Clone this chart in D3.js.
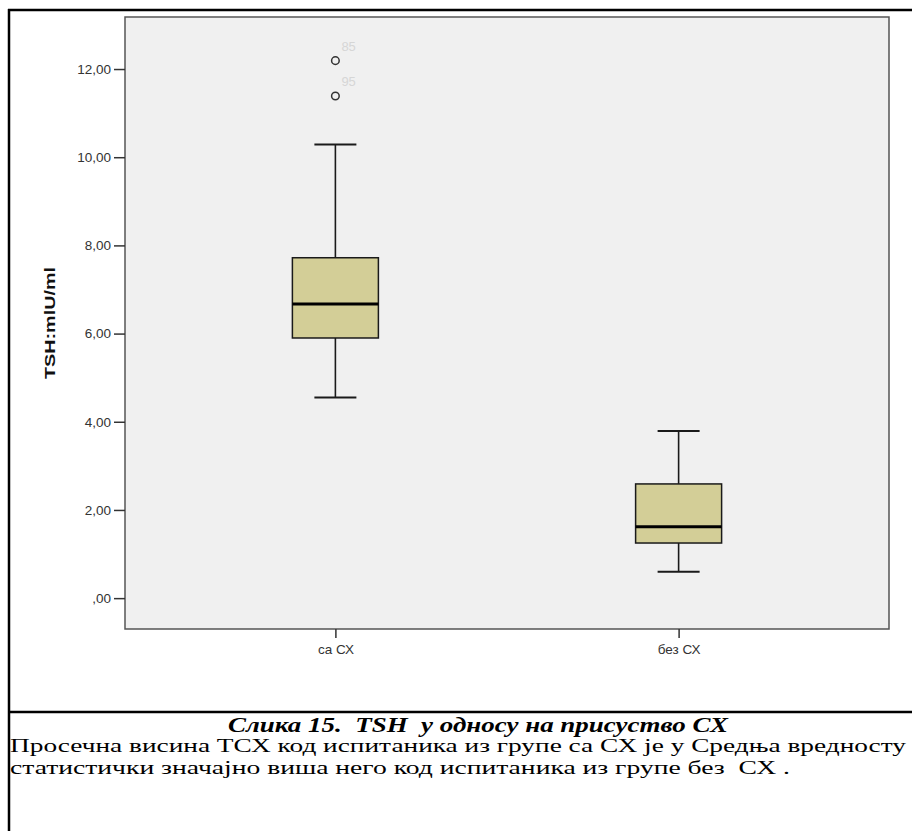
<!DOCTYPE html>
<html>
<head>
<meta charset="utf-8">
<script src="https://cdn.jsdelivr.net/npm/d3@7/dist/d3.min.js"></script>
<style>
  html, body { margin: 0; padding: 0; background: #fff; }
  svg { display: block; }
</style>
</head>
<body>
<script>
// Group labels
const groups = ["са СХ", "без СХ"];
// Five-number summaries per group (TSH, mIU/ml)
const whiskerLow  = [4.55, 0.60];
const q1          = [5.90, 1.25];
const median      = [6.67, 1.62];
const q3          = [7.72, 2.59];
const whiskerHigh = [10.29, 3.79];
// Outlying cases (group index, value, case id)
const outlierGroup = [0, 0];
const outlierValue = [12.19, 11.39];
const outlierCase  = ["85", "95"];
// Axis ticks
const yTicks = [0, 2, 4, 6, 8, 10, 12];
const yTitle = "TSH:mlU/ml";
const captionTitle = "Слика 15.  TSH  у односу на присуство СХ";
const captionLines = [
  "Просечна висина ТСХ код испитаника из групе са СХ је у Средња вредносту",
  "статистички значајно виша него код испитаника из групе без  СХ ."
];
// Set widths of the caption lines (the document text is set wide)
const captionLineWidths = [896, 780];

const W = 912, H = 831;
const svg = d3.select("body").append("svg").attr("width", W).attr("height", H);

// Outer document frame
svg.append("line").attr("x1", 8).attr("x2", W).attr("y1", 10).attr("y2", 10)
  .attr("stroke", "#000").attr("stroke-width", 2.5);
svg.append("line").attr("x1", 9).attr("x2", 9).attr("y1", 9).attr("y2", H)
  .attr("stroke", "#000").attr("stroke-width", 2.5);
svg.append("line").attr("x1", 9).attr("x2", W).attr("y1", 712).attr("y2", 712)
  .attr("stroke", "#000").attr("stroke-width", 2.5);

// Plot area
const plot = { left: 125, right: 889, top: 17, bottom: 629 };
const y = d3.scaleLinear().domain([-0.70, 13.18]).range([plot.bottom, plot.top]);
const x = d3.scalePoint().domain(groups).range([plot.left, plot.right]).padding(0.613);

svg.append("rect")
  .attr("x", plot.left).attr("y", plot.top)
  .attr("width", plot.right - plot.left).attr("height", plot.bottom - plot.top)
  .attr("fill", "#f0f0f0").attr("stroke", "#555").attr("stroke-width", 1.5);

const sans = "'Liberation Sans', Arial, sans-serif";

// Y axis
const yAxis = d3.axisLeft(y).tickValues(yTicks).tickSize(11).tickPadding(3)
  .tickFormat(d => d === 0 ? ",00" : d3.format(".2f")(d).replace(".", ","));
const gy = svg.append("g").attr("transform", `translate(${plot.left},0)`).call(yAxis);
gy.select(".domain").remove();
gy.selectAll(".tick line").attr("stroke", "#333").attr("stroke-width", 1.5);
gy.selectAll(".tick text").attr("fill", "#333")
  .style("font-family", sans).style("font-size", "13.5px");

// X axis
const xAxis = d3.axisBottom(x).tickSize(9).tickPadding(6);
const gx = svg.append("g").attr("transform", `translate(0,${plot.bottom})`).call(xAxis);
gx.select(".domain").remove();
gx.selectAll(".tick line").attr("stroke", "#333").attr("stroke-width", 1.5);
gx.selectAll(".tick text").attr("fill", "#333")
  .style("font-family", sans).style("font-size", "13.5px");

// Y axis title
svg.append("text")
  .attr("transform", `translate(55,${(plot.top + plot.bottom) / 2}) rotate(-90)`)
  .attr("text-anchor", "middle")
  .attr("textLength", 112).attr("lengthAdjust", "spacingAndGlyphs")
  .style("font-family", sans)
  .style("font-size", "14.5px").style("font-weight", "bold").attr("fill", "#111")
  .text(yTitle);

// Boxes
const boxW = 86, capW = 42;
const data = groups.map((g, i) => ({
  g, lo: whiskerLow[i], q1: q1[i], med: median[i], q3: q3[i], hi: whiskerHigh[i]
}));
const bg = svg.append("g").selectAll("g").data(data).join("g")
  .attr("transform", d => `translate(${x(d.g)},0)`);
const stroke = "#1a1a1a";
bg.append("line").attr("x1", 0).attr("x2", 0)
  .attr("y1", d => y(d.hi)).attr("y2", d => y(d.q3)).attr("stroke", stroke).attr("stroke-width", 1.6);
bg.append("line").attr("x1", 0).attr("x2", 0)
  .attr("y1", d => y(d.q1)).attr("y2", d => y(d.lo)).attr("stroke", stroke).attr("stroke-width", 1.6);
bg.append("line").attr("x1", -capW / 2).attr("x2", capW / 2)
  .attr("y1", d => y(d.hi)).attr("y2", d => y(d.hi)).attr("stroke", stroke).attr("stroke-width", 2);
bg.append("line").attr("x1", -capW / 2).attr("x2", capW / 2)
  .attr("y1", d => y(d.lo)).attr("y2", d => y(d.lo)).attr("stroke", stroke).attr("stroke-width", 2);
bg.append("rect").attr("x", -boxW / 2).attr("width", boxW)
  .attr("y", d => y(d.q3)).attr("height", d => y(d.q1) - y(d.q3))
  .attr("fill", "#d3ce97").attr("stroke", stroke).attr("stroke-width", 1.5);
bg.append("line").attr("x1", -boxW / 2).attr("x2", boxW / 2)
  .attr("y1", d => y(d.med)).attr("y2", d => y(d.med)).attr("stroke", "#000").attr("stroke-width", 3);

// Outliers with case labels
const outliers = outlierValue.map((v, i) => ({ g: groups[outlierGroup[i]], v, id: outlierCase[i] }));
svg.append("g").selectAll("circle").data(outliers).join("circle")
  .attr("cx", d => x(d.g)).attr("cy", d => y(d.v)).attr("r", 3.8)
  .attr("fill", "none").attr("stroke", "#333").attr("stroke-width", 1.5);
svg.append("g").selectAll("text").data(outliers).join("text")
  .attr("x", d => x(d.g) + 6).attr("y", d => y(d.v) - 9.5)
  .style("font-family", sans).style("font-size", "13px")
  .attr("fill", "#d6d6d6").text(d => d.id);

// Caption
const serif = "'Liberation Serif', 'Times New Roman', serif";
svg.append("text").attr("x", 478).attr("y", 732).attr("text-anchor", "middle")
  .attr("textLength", 500).attr("lengthAdjust", "spacingAndGlyphs")
  .style("font-family", serif)
  .style("font-size", "22px").style("font-weight", "bold").style("font-style", "italic")
  .attr("fill", "#000").style("white-space", "pre")
  .text(captionTitle);
svg.append("g").selectAll("text").data(captionLines).join("text")
  .attr("x", 10).attr("y", (d, i) => 752 + i * 21.5)
  .attr("textLength", (d, i) => captionLineWidths[i]).attr("lengthAdjust", "spacingAndGlyphs")
  .style("font-family", serif)
  .style("font-size", "18.5px").attr("fill", "#000").style("white-space", "pre")
  .text(d => d);
</script>
</body>
</html>
